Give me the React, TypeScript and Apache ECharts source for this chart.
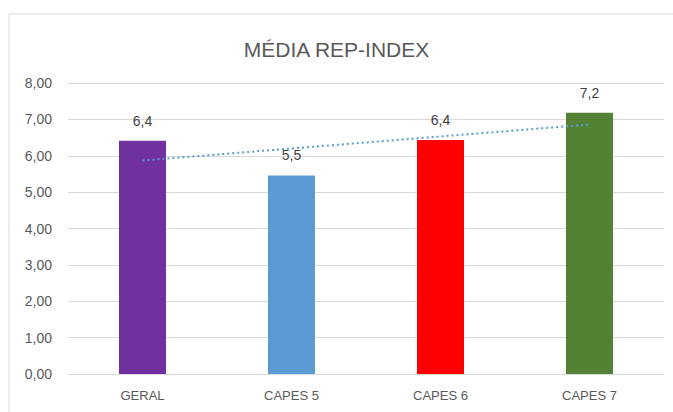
import React, { useEffect, useRef } from "react";
import * as echarts from "echarts";

const title = "MÉDIA REP-INDEX";
const categories = ["GERAL", "CAPES 5", "CAPES 6", "CAPES 7"];
const values = [6.41, 5.46, 6.43, 7.18];
const barColors = ["#7030A0", "#5B9BD5", "#FF0000", "#548235"];
// linear trendline endpoints (first and last category)
const trendValues = [5.87, null, null, 6.86];
const yTicks = { min: 0, max: 8, interval: 1 };

export default function App() {
  const ref = useRef<HTMLDivElement>(null);
  useEffect(() => {
    if (!ref.current) return;
    const chart = echarts.init(ref.current, null, { renderer: "svg" });
    const font = "'Liberation Sans', Arial, sans-serif";
    chart.setOption({
      animation: false,
      backgroundColor: "#ffffff",
      textStyle: { fontFamily: font },
      graphic: [
        {
          type: "rect",
          shape: { x: 9, y: 14, width: 700, height: 440 },
          style: { fill: "none", stroke: "#d9d9d9", lineWidth: 1 },
          silent: true,
          z: -1,
        },
      ],
      title: {
        text: title,
        left: "center",
        top: 34,
        textStyle: { fontFamily: font, fontSize: 21, fontWeight: "normal", color: "#595959" },
      },
      grid: { left: 68, right: 9, top: 83, bottom: 38, containLabel: false },
      xAxis: {
        type: "category",
        data: categories,
        axisLine: { show: true, lineStyle: { color: "#d9d9d9", width: 1 } },
        axisTick: { show: false },
        axisLabel: { color: "#595959", fontSize: 13, margin: 15, fontFamily: font },
      },
      yAxis: {
        type: "value",
        min: yTicks.min,
        max: yTicks.max,
        interval: yTicks.interval,
        axisLine: { show: false },
        axisTick: { show: false },
        splitLine: { lineStyle: { color: "#d9d9d9", width: 1 } },
        axisLabel: {
          color: "#595959",
          fontSize: 14,
          margin: 16,
          fontFamily: font,
          formatter: (v: number) => v.toFixed(2).replace(".", ","),
        },
      },
      series: [
        {
          type: "bar",
          barWidth: 47,
          data: values.map((v, i) => ({ value: v, itemStyle: { color: barColors[i] } })),
          label: {
            show: true,
            position: "top",
            distance: 13,
            color: "#404040",
            fontSize: 14,
            fontFamily: font,
            formatter: (p: any) => Number(p.value).toFixed(1).replace(".", ","),
          },
          z: 2,
        },
        {
          type: "line",
          data: trendValues,
          connectNulls: true,
          symbol: "none",
          lineStyle: { color: "#5B9BD5", width: 2, type: [2, 3] },
          z: 3,
        },
      ],
    });
    return () => chart.dispose();
  }, []);
  return (
    <div
      ref={ref}
      style={{ position: "fixed", left: 0, top: 0, width: 673, height: 412 }}
    />
  );
}
